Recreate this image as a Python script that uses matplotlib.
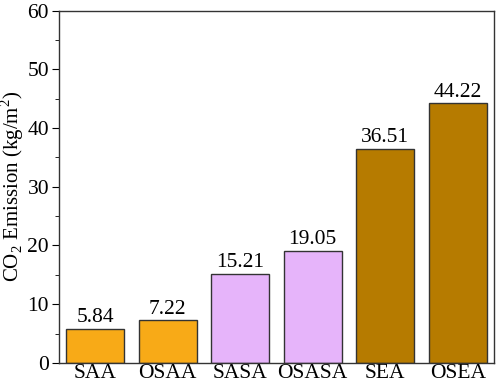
import matplotlib
matplotlib.use("Agg")
import matplotlib.pyplot as plt
from matplotlib.ticker import MultipleLocator

plt.rcParams['font.family'] = ['Liberation Serif', 'DejaVu Serif']
plt.rcParams['mathtext.fontset'] = 'custom'
plt.rcParams['mathtext.rm'] = 'Liberation Serif'

# 数据
categories = ['SAA', 'OSAA', 'SASA', 'OSASA', 'SEA', 'OSEA']
emissions = [5.84, 7.22, 15.21, 19.05, 36.51, 44.22]
bar_colors = ['#F8AA17', '#F8AA17', '#E6B4FA', '#E6B4FA', '#B67B00', '#B67B00']

fig, ax = plt.subplots(figsize=(4.98, 3.86), dpi=100)
fig.subplots_adjust(left=0.118, right=0.992, top=0.972, bottom=0.06)

x = range(len(categories))
bars = ax.bar(x, emissions, width=0.8, color=bar_colors, edgecolor='#333333', linewidth=1)

for xi, v in zip(x, emissions):
    ax.text(xi, v + 0.3, f'{v:.2f}', ha='center', va='bottom', fontsize=15.5)

ax.set_xlim(-0.5, 5.5)
ax.set_ylim(0, 60)
ax.set_xticks(list(x))
ax.set_xticklabels(categories, fontsize=15.5)
ax.tick_params(axis='x', length=0, pad=1)
ax.yaxis.set_major_locator(MultipleLocator(10))
ax.yaxis.set_minor_locator(MultipleLocator(5))
ax.tick_params(axis='y', which='major', direction='out', length=5, labelsize=15.5, pad=2)
ax.tick_params(axis='y', which='minor', direction='out', length=3)
ax.set_ylabel(r'CO$_2$ Emission (kg/m$^2$)', fontsize=15)
ax.yaxis.set_label_coords(-0.075, 0.5)

for s in ax.spines.values():
    s.set_linewidth(1)
    s.set_color('#333333')

fig.savefig('out.png', dpi=100)
